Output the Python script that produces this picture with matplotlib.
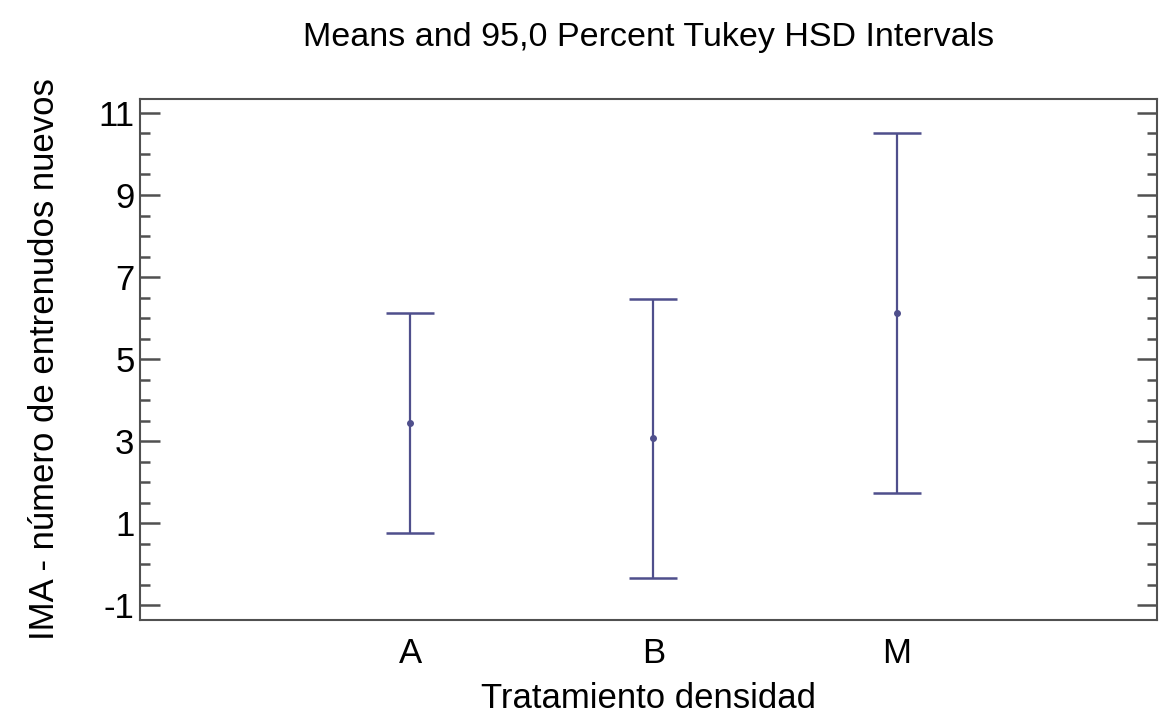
import matplotlib
matplotlib.use("Agg")
import matplotlib.pyplot as plt
from matplotlib.ticker import MultipleLocator

plt.rcParams['font.family'] = ['Liberation Sans', 'DejaVu Sans']
plt.rcParams['axes.unicode_minus'] = False

# Treatment groups and their Tukey HSD intervals
groups = ["A", "B", "M"]
means = [3.44, 3.07, 6.13]
lower = [0.75, -0.33, 1.73]
upper = [6.13, 6.46, 10.52]

line_color = "#4f4f8c"
axis_color = "#505050"

fig = plt.figure(figsize=(11.69, 7.2), dpi=100)
ax = fig.add_axes([0.1198, 0.1389, 0.8699, 0.7236])

pos = list(range(1, len(groups) + 1))
err_lo = [m - lo for m, lo in zip(means, lower)]
err_hi = [hi - m for m, hi in zip(means, upper)]
ax.errorbar(pos, means, yerr=[err_lo, err_hi], fmt="o", color=line_color,
            ms=4, elinewidth=1.6, capsize=17.6, capthick=1.8)

ax.set_xlim(-0.109, 4.068)
ax.set_ylim(-1.36, 11.34)
ax.set_xticks(pos)
ax.set_xticklabels(groups)
ax.yaxis.set_major_locator(MultipleLocator(2))
ax.yaxis.set_minor_locator(MultipleLocator(0.5))
ax.set_yticks([-1, 1, 3, 5, 7, 9, 11])

ax.tick_params(axis="y", which="both", direction="in", left=True, right=True,
               color=axis_color, width=1.8, labelsize=25, pad=4)
ax.tick_params(axis="y", which="major", length=14.5)
ax.tick_params(axis="y", which="minor", length=7.2)
ax.tick_params(axis="x", length=0, labelsize=25, pad=12)

for s in ax.spines.values():
    s.set_color(axis_color)
    s.set_linewidth(1.5)

ax.set_title("Means and 95,0 Percent Tukey HSD Intervals", fontsize=24.5, pad=38)
ax.set_xlabel("Tratamiento densidad", fontsize=25, labelpad=9)
ax.set_ylabel("IMA - número de entrenudos nuevos", fontsize=25, labelpad=27)

fig.savefig("out.png", dpi=100)
